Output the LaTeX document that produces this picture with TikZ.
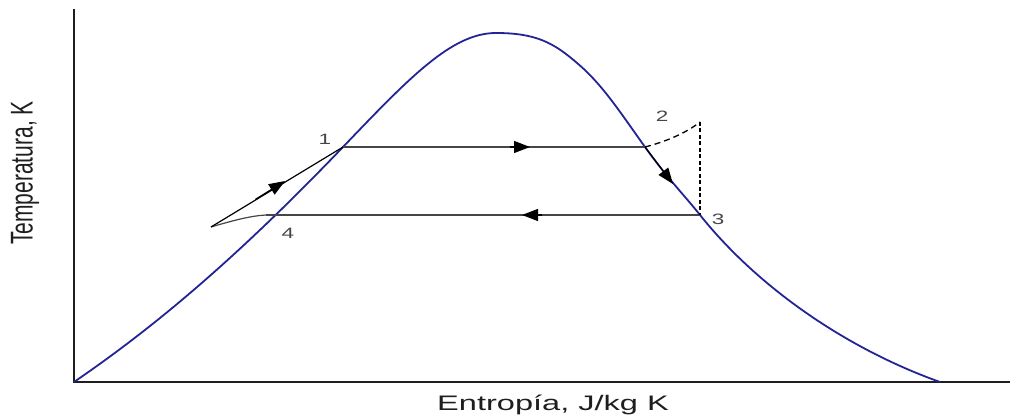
\documentclass[tikz,border=0pt]{standalone}
\usepackage{fontspec}
\setmainfont{Liberation Sans}
\usetikzlibrary{arrows.meta,calc}
\definecolor{curveblue}{RGB}{35,35,150}
\definecolor{axisgray}{RGB}{30,30,30}
\definecolor{linegray}{RGB}{70,70,70}
\tikzset{
  axis/.style={draw=axisgray, line width=2pt},
  sat/.style={draw=curveblue, line width=1.8pt},
  proc/.style={draw=linegray, line width=1.2pt},
  arr/.style={draw=black, line width=1.2pt, -{Triangle[length=16pt,width=12pt]}},
  numlbl/.style={font=\fontsize{15}{15}\selectfont, text=linegray, inner sep=0pt},
  axlbl/.style={font=\fontsize{21}{21}\selectfont, text=axisgray, inner sep=0pt}
}
\begin{document}
\begin{tikzpicture}[x=1pt,y=-1pt]
\useasboundingbox (0,0) rectangle (1012,419);
% axes
\coordinate (o) at (74,382);
\coordinate (ytop) at (74,9);
\coordinate (xend) at (1010,382);
\draw[axis] (ytop) -- (o) -- (xend);
% cycle points
\coordinate (p1) at (343,147);
\coordinate (p2) at (645,147);
\coordinate (p3) at (700,215);
\coordinate (p4) at (266,215);
\coordinate (L) at (211,227);
\coordinate (D) at (700,122);
\coordinate (top) at (496,33);
\coordinate (q) at (577,63);
\coordinate (e) at (940,382);
% saturation dome
\draw[sat] (o) .. controls (150,330) and (232,263) .. (p1)
  .. controls (410,77) and (452,33) .. (top)
  .. controls (536,33) and (554,43) .. (q)
  .. controls (602,84) and (620,112) .. (p2)
  .. controls (668,179) and (685,196) .. (p3)
  .. controls (760,290) and (850,350) .. (e);
% process lines
\draw[proc] (p1) -- (p2);
\draw[proc] (p3) -- (p4);
\draw[proc] (p4) .. controls (250,216) and (235,220) .. (L);
\draw[draw=black, line width=1.2pt] (L) -- (p1);
% arrows
\coordinate (a12) at (530,147);
\coordinate (b12) at (510,147);
\coordinate (a34) at (522,215);
\coordinate (b34) at (542,215);
\coordinate (a41) at (285,181);
\coordinate (a23) at (673,184);
\draw[arr] (b12) -- (a12);
\draw[arr] (b34) -- (a34);
\draw[arr] ($(L)!0.6!(a41)$) -- (a41);
\draw[arr] (p2) -- (a23);
% dashed
\draw[draw=black, line width=1.3pt, dash pattern=on 6pt off 4pt] (p2) .. controls (672,140) and (690,130) .. (D);
\draw[draw=black, line width=1.5pt, dash pattern=on 4pt off 2.5pt] (D) -- (p3);
% labels
\node[numlbl] (n1) at (325,139) {\scalebox{1.5}[1]{1}};
\node[numlbl] (n2) at (662,116) {\scalebox{1.5}[1]{2}};
\node[numlbl] (n3) at (718,219) {\scalebox{1.5}[1]{3}};
\node[numlbl] (n4) at (288,233) {\scalebox{1.5}[1]{4}};
\node[axlbl, rotate=90] (ylab) at (25,173) {\scalebox{1}[1.5]{Temperatura, K}};
\node[axlbl] (xlab) at (553,405) {\scalebox{1.55}[1]{Entropía, J/kg K}};
\end{tikzpicture}
\end{document}
